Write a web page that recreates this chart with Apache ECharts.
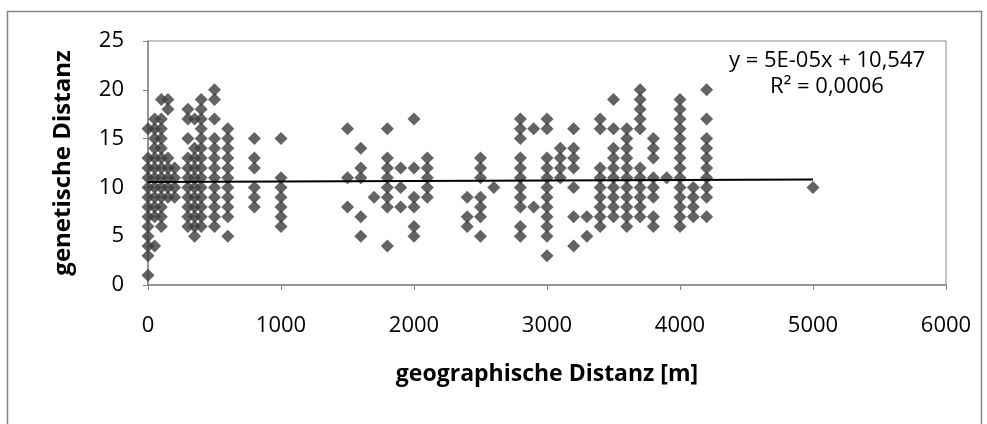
<!DOCTYPE html>
<html>

<head>
  <meta charset="utf-8" />
  <title>genetische Distanz</title>
  <script src="https://cdn.jsdelivr.net/npm/echarts@6.0.0/dist/echarts.min.js"></script>
  <style>
    body {
      margin: 0;
      background-color: #fff;
    }
  </style>
</head>

<body>
  <div id="main" style="width: 987px;height:424px;"></div>
  <script type="text/javascript">
    var myChart = echarts.init(document.getElementById('main'));

    // geographische Distanz [m] je Spalte
    let distances = [0, 50, 100, 150, 200, 300, 350, 400, 500, 600, 800, 1000,
      1500, 1600, 1700, 1800, 1900, 2000, 2100, 2400, 2500, 2600, 2800, 2900,
      3000, 3100, 3200, 3300, 3400, 3500, 3600, 3700, 3800, 3900, 4000, 4100, 4200, 5000];
    // genetische Distanzen, die zu jeder Spalte gehoeren
    let genDist = [
      [16, 13, 12, 11, 10, 9, 8, 7, 6, 5, 4, 3, 1],
      [17, 16, 15, 14, 13, 12, 11, 10, 9, 8, 7, 4],
      [19, 17, 16, 15, 14, 13, 12, 11, 10, 9, 8, 7, 6],
      [19, 18, 13, 12, 11, 10, 9],
      [12, 11, 10, 9],
      [18, 17, 15, 13, 12, 11, 10, 9, 8, 7, 6],
      [17, 14, 13, 12, 11, 10, 9, 8, 7, 6, 5],
      [19, 18, 17, 16, 15, 14, 13, 12, 11, 10, 9, 8, 7, 6],
      [20, 19, 17, 15, 14, 13, 12, 11, 10, 9, 8, 7, 6],
      [16, 15, 14, 13, 12, 11, 10, 9, 8, 7, 5],
      [15, 13, 12, 10, 9, 8],
      [15, 11, 10, 9, 8, 7, 6],
      [16, 11, 8],
      [14, 12, 11, 7, 5],
      [9],
      [16, 13, 12, 11, 10, 9, 8, 4],
      [12, 10, 8],
      [17, 12, 9, 8, 6, 5],
      [13, 12, 11, 10, 9],
      [9, 7, 6],
      [13, 12, 11, 9, 8, 7, 5],
      [10],
      [17, 16, 15, 13, 12, 11, 10, 9, 8, 6, 5],
      [16, 8],
      [17, 16, 13, 12, 11, 10, 9, 8, 7, 6, 5, 3],
      [14, 13, 12, 11],
      [16, 14, 13, 12, 10, 7, 4],
      [7, 5],
      [17, 16, 12, 11, 10, 9, 8, 7, 6],
      [19, 16, 14, 13, 12, 11, 10, 9, 8, 7],
      [16, 15, 14, 13, 12, 11, 10, 9, 8, 7, 6],
      [20, 19, 18, 17, 16, 12, 11, 10, 9, 8, 7],
      [15, 14, 13, 11, 10, 9, 7, 6],
      [11],
      [19, 18, 17, 16, 15, 14, 13, 12, 11, 10, 9, 8, 7, 6],
      [10, 9, 8, 7],
      [20, 17, 15, 14, 13, 12, 11, 10, 9, 7],
      [10]
    ];
    let xTicks = [0, 1000, 2000, 3000, 4000, 5000, 6000];
    let yTicks = [0, 5, 10, 15, 20, 25];
    // lineare Trendlinie aus Excel
    let trendSlope = 0.00005, trendIntercept = 10.547;
    let trendX = [0, 5000];

    let points = [];
    distances.forEach((d, i) => {
      genDist[i].forEach(v => points.push([d, v]));
    });
    let trendData = trendX.map(x => [x, trendSlope * x + trendIntercept]);

    let axisColor = '#868686', fontName = 'Open Sans';

    var option = {
      backgroundColor: '#fff',
      textStyle: { fontFamily: fontName },
      grid: {
        left: 148,
        right: 41,
        top: 41,
        bottom: 139,
        show: true,
        borderColor: axisColor,
        borderWidth: 1
      },
      xAxis: {
        type: 'value',
        min: xTicks[0],
        max: xTicks[xTicks.length - 1],
        interval: 1000,
        name: 'geographische Distanz [m]',
        nameLocation: 'middle',
        nameGap: 78,
        nameTextStyle: { fontSize: 23, fontWeight: 'bold', color: '#000', fontFamily: fontName },
        axisLine: { lineStyle: { color: axisColor, width: 1.5 } },
        axisTick: { length: 5, lineStyle: { color: axisColor } },
        splitLine: { show: false },
        axisLabel: { margin: 30, fontSize: 22, color: '#000', fontFamily: fontName, formatter: v => String(v) }
      },
      yAxis: {
        type: 'value',
        min: yTicks[0],
        max: yTicks[yTicks.length - 1],
        interval: 5,
        name: 'genetische Distanz',
        nameLocation: 'middle',
        nameGap: 73,
        nameTextStyle: { fontSize: 24, fontWeight: 'bold', color: '#000', fontFamily: fontName },
        axisLine: { show: true, lineStyle: { color: axisColor, width: 1.5 } },
        axisTick: { show: true, length: 5, lineStyle: { color: axisColor } },
        splitLine: { show: false },
        axisLabel: { margin: 24, fontSize: 22, color: '#000', fontFamily: fontName }
      },
      graphic: [{
        type: 'rect',
        shape: { x: 7.5, y: 11.5, width: 974, height: 430 },
        style: { fill: null, stroke: axisColor, lineWidth: 1.5 },
        silent: true
      }, {
        type: 'text',
        x: 827,
        y: 50,
        style: { text: 'y = 5E-05x + 10,547', font: '22px "Open Sans"', fill: '#000', align: 'center' }
      }, {
        type: 'text',
        x: 827,
        y: 76,
        style: { text: 'R² = 0,0006', font: '22px "Open Sans"', fill: '#000', align: 'center' }
      }],
      series: [{
        type: 'scatter',
        data: points,
        symbol: 'diamond',
        symbolSize: 13,
        itemStyle: { color: '#3c3c3c' },
        z: 2
      }, {
        type: 'line',
        data: trendData,
        showSymbol: false,
        lineStyle: { color: '#000', width: 2 },
        z: 3
      }]
    };

    myChart.setOption(option);
  </script>
</body>

</html>
